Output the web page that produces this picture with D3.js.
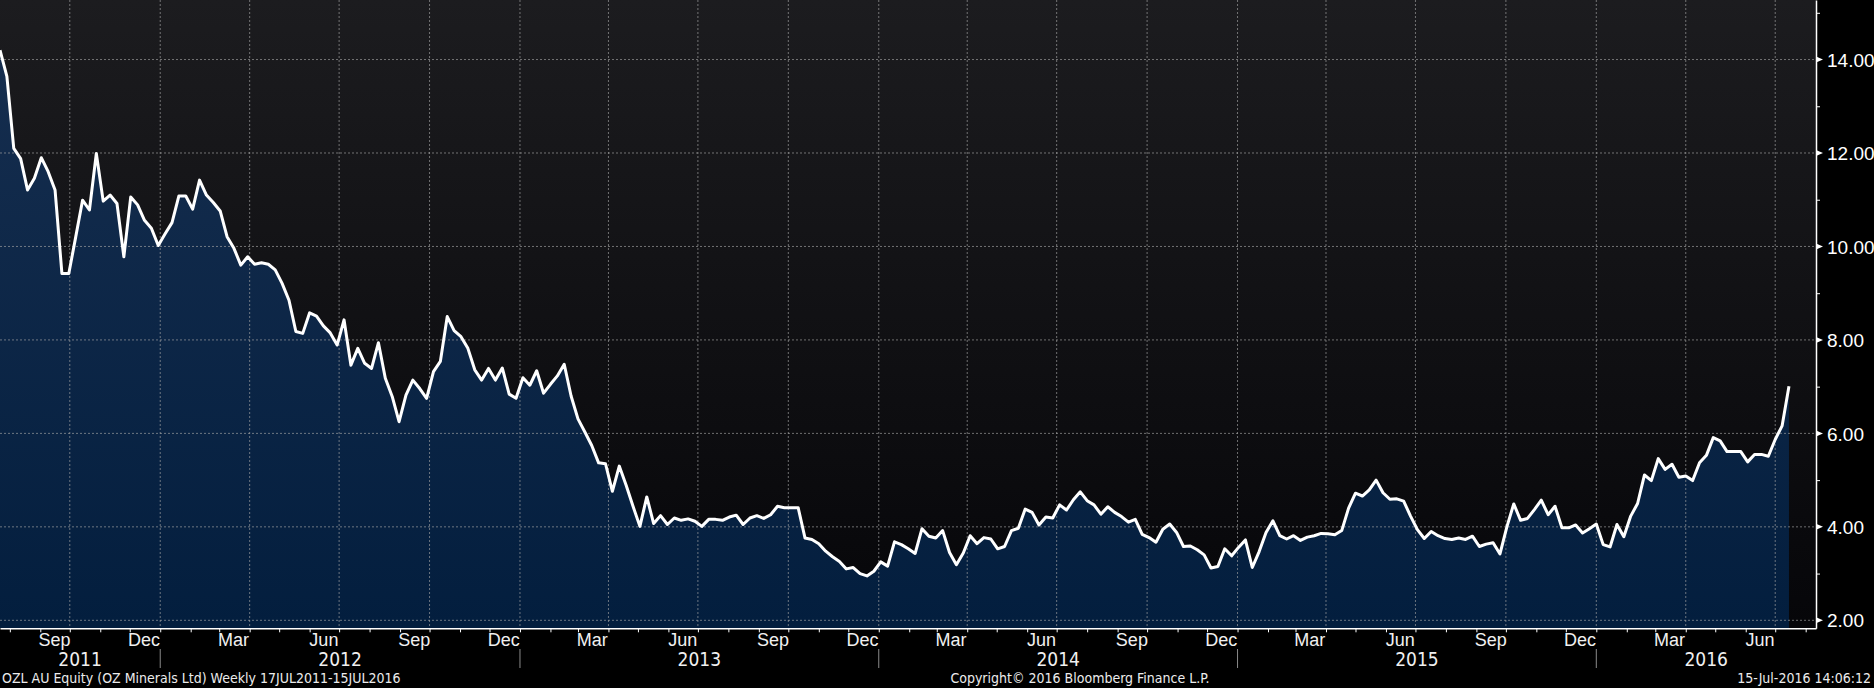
<!DOCTYPE html>
<html>
<head>
<meta charset="utf-8">
<script src="https://d3js.org/d3.v7.min.js"></script>
<style>
  body { margin: 0; background: #000; }
  svg { display: block; }
  text { font-family: "Liberation Sans Narrow", "Arial Narrow", "DejaVu Sans Condensed", sans-serif; }
</style>
</head>
<body>
<script>
"use strict";

// weekly closes, first week ending 22 Jul 2011
const firstWeek = new Date(2011, 6, 22);
const closes = [
    14.2, 13.64, 12.1, 11.88, 11.21, 11.46, 11.9, 11.6, 11.21, 9.42,
    9.42, 10.2, 10.99, 10.78, 11.99, 10.97, 11.1, 10.92, 9.78, 11.06,
    10.89, 10.56, 10.39, 10.02, 10.27, 10.51, 11.08, 11.08, 10.8, 11.42,
    11.1, 10.94, 10.76, 10.21, 9.96, 9.6, 9.78, 9.62, 9.65, 9.62,
    9.5, 9.21, 8.85, 8.18, 8.14, 8.58, 8.51, 8.3, 8.15, 7.89,
    8.43, 7.46, 7.82, 7.5, 7.39, 7.94, 7.18, 6.79, 6.25, 6.82,
    7.14, 6.96, 6.75, 7.32, 7.54, 8.5, 8.2, 8.07, 7.82, 7.36,
    7.14, 7.39, 7.14, 7.4, 6.84, 6.75, 7.19, 7.03, 7.34, 6.86,
    7.05, 7.23, 7.48, 6.8, 6.31, 6.03, 5.74, 5.37, 5.35, 4.76,
    5.3, 4.89, 4.44, 4.01, 4.64, 4.07, 4.24, 4.05, 4.19, 4.14,
    4.17, 4.12, 4.01, 4.16, 4.16, 4.14, 4.21, 4.25, 4.05, 4.19,
    4.24, 4.18, 4.26, 4.44, 4.41, 4.41, 4.41, 3.76, 3.73, 3.64,
    3.48, 3.36, 3.26, 3.1, 3.13, 3.0, 2.95, 3.05, 3.25, 3.16,
    3.68, 3.62, 3.53, 3.43, 3.96, 3.8, 3.76, 3.92, 3.45, 3.19,
    3.44, 3.81, 3.64, 3.77, 3.74, 3.53, 3.58, 3.92, 3.97, 4.38,
    4.31, 4.04, 4.21, 4.19, 4.47, 4.36, 4.58, 4.75, 4.56, 4.47,
    4.27, 4.43, 4.31, 4.22, 4.1, 4.16, 3.84, 3.77, 3.67, 3.95,
    4.06, 3.88, 3.58, 3.59, 3.51, 3.4, 3.12, 3.15, 3.53, 3.38,
    3.56, 3.72, 3.13, 3.47, 3.88, 4.13, 3.81, 3.74, 3.81, 3.71,
    3.78, 3.81, 3.86, 3.85, 3.83, 3.92, 4.4, 4.72, 4.66, 4.79,
    5.0, 4.73, 4.59, 4.6, 4.55, 4.23, 3.94, 3.75, 3.9, 3.81,
    3.75, 3.73, 3.76, 3.73, 3.8, 3.58, 3.63, 3.66, 3.42, 4.0,
    4.49, 4.14, 4.18, 4.37, 4.57, 4.26, 4.44, 3.98, 3.98, 4.04,
    3.87, 3.96, 4.06, 3.62, 3.57, 4.05, 3.79, 4.23, 4.5, 5.11,
    4.99, 5.46, 5.23, 5.34, 5.06, 5.09, 4.99, 5.37, 5.53, 5.91,
    5.84, 5.61, 5.61, 5.61, 5.39, 5.55, 5.55, 5.51, 5.87, 6.16,
    7.01
];

const yTicks = [2, 4, 6, 8, 10, 12, 14];
const yMinorTicks = [3, 5, 7, 9, 11, 13, 15];
const years = [2011, 2012, 2013, 2014, 2015, 2016];
const footerLeft = "OZL AU Equity (OZ Minerals Ltd)  Weekly 17JUL2011-15JUL2016";
const footerMid = "Copyright\u00A9 2016 Bloomberg Finance L.P.";
const footerRight = "15-Jul-2016 14:06:12";

function draw(){
    const width = 1874,
        height = 688,
        plotRight = 1816,
        plotBottom = 628.3;

    let data = closes.map(function(v, i){
        return {date: d3.timeWeek.offset(firstWeek, i), value: v};
    });

    let x = d3.scaleTime()
        .domain([new Date(2011, 6, 22), new Date(2016, 7, 11, 12)])
        .range([0, plotRight]);

    let y = d3.scaleLinear()
        .domain([1.829, 15.274])
        .range([plotBottom, 0]);

    let svg = d3.select("body")
        .append("svg")
        .attr("width", width)
        .attr("height", height)
        .style("background", "#000");

    let defs = svg.append("defs");

    let bg = defs.append("linearGradient")
        .attr("id", "bg")
        .attr("x1", 0).attr("y1", 0).attr("x2", 0).attr("y2", 1);
    bg.append("stop").attr("offset", "0%").attr("stop-color", "#1c1c1f");
    bg.append("stop").attr("offset", "100%").attr("stop-color", "#060609");

    let fill = defs.append("linearGradient")
        .attr("id", "fill")
        .attr("gradientUnits", "userSpaceOnUse")
        .attr("x1", 0).attr("y1", 0).attr("x2", 0).attr("y2", plotBottom);
    fill.append("stop").attr("offset", "0%").attr("stop-color", "#172f50");
    fill.append("stop").attr("offset", "100%").attr("stop-color", "#031e3e");

    defs.append("clipPath")
        .attr("id", "plot-clip")
        .append("rect")
        .attr("width", plotRight)
        .attr("height", plotBottom);

    svg.append("rect")
        .attr("width", plotRight)
        .attr("height", plotBottom)
        .attr("fill", "url(#bg)");

    let chart = svg.append("g")
        .attr("clip-path", "url(#plot-clip)");

    chart.append("path")
        .datum(data)
        .attr("fill", "url(#fill)")
        .attr("d", d3.area()
            .x(function(d){ return x(d.date); })
            .y0(plotBottom)
            .y1(function(d){ return y(d.value); }));

    // dotted grid
    let gridColor = "rgba(165,165,165,0.65)";
    chart.selectAll(".hgrid")
        .data(yTicks)
        .enter()
        .append("line")
        .attr("x1", 0)
        .attr("x2", plotRight)
        .attr("y1", function(d){ return y(d); })
        .attr("y2", function(d){ return y(d); })
        .attr("stroke", gridColor)
        .attr("stroke-dasharray", "2,2");

    let quarters = d3.timeMonth.every(3).range(new Date(2011, 6, 23), x.domain()[1]);
    chart.selectAll(".vgrid")
        .data(quarters)
        .enter()
        .append("line")
        .attr("x1", function(d){ return x(d); })
        .attr("x2", function(d){ return x(d); })
        .attr("y1", 0)
        .attr("y2", plotBottom)
        .attr("stroke", gridColor)
        .attr("stroke-dasharray", "2,2");

    chart.append("path")
        .datum(data)
        .attr("fill", "none")
        .attr("stroke", "#fff")
        .attr("stroke-width", 3)
        .attr("stroke-linejoin", "round")
        .attr("d", d3.line()
            .x(function(d){ return x(d.date); })
            .y(function(d){ return y(d.value); }));

    // right axis
    let yAxis = svg.append("g")
        .attr("transform", "translate(" + plotRight + ",0)")
        .attr("color", "#fff")
        .call(d3.axisRight(y)
            .tickValues(yTicks)
            .tickSize(0)
            .tickSizeOuter(0)
            .tickPadding(11)
            .tickFormat(d3.format(".2f")));
    yAxis.select(".domain").attr("stroke-width", 1.5);
    yAxis.selectAll("text")
        .attr("font-size", "19px")
        .attr("dy", "0.35em")
        .style("font-family", "inherit");

    yAxis.selectAll(".marker")
        .data(yTicks)
        .enter()
        .append("path")
        .attr("fill", "#fff")
        .attr("d", function(d){
            let t = y(d);
            return "M0," + (t - 3) + "L7," + t + "L0," + (t + 3) + "Z";
        });

    svg.append("g")
        .attr("transform", "translate(" + plotRight + ",0)")
        .attr("color", "#fff")
        .call(d3.axisRight(y)
            .tickValues(yMinorTicks)
            .tickSize(4)
            .tickFormat(""))
        .select(".domain").remove();

    // bottom axis
    let xAxis = svg.append("g")
        .attr("transform", "translate(0," + plotBottom + ")")
        .attr("color", "#fff")
        .call(d3.axisBottom(x)
            .ticks(d3.timeMonth.every(1))
            .tickSize(4)
            .tickSizeOuter(0)
            .tickFormat(""));
    xAxis.select(".domain").attr("stroke-width", 1.5);

    let labelMonths = d3.timeMonth.range(new Date(2011, 7, 1), x.domain()[1])
        .filter(function(d){ return d.getMonth() % 3 === 2; })
        .map(function(d){ return new Date(d.getFullYear(), d.getMonth(), 15); });

    let monthAxis = svg.append("g")
        .attr("transform", "translate(0," + plotBottom + ")")
        .attr("color", "#f0f0f0")
        .call(d3.axisBottom(x)
            .tickValues(labelMonths)
            .tickSize(0)
            .tickPadding(5)
            .tickFormat(d3.timeFormat("%b")));
    monthAxis.select(".domain").remove();
    monthAxis.selectAll("text")
        .attr("font-size", "18px")
        .style("font-family", "inherit");

    // years under the months
    let yearSpans = years.map(function(yr){
        let a = Math.max(0, x(new Date(yr, 0, 1))),
            b = Math.min(plotRight, x(new Date(yr + 1, 0, 1)));
        return {year: yr, start: a, mid: (a + b) / 2};
    });

    svg.selectAll(".year")
        .data(yearSpans)
        .enter()
        .append("text")
        .attr("x", function(d){ return d.mid; })
        .attr("y", 666)
        .attr("text-anchor", "middle")
        .attr("font-size", "19px")
        .attr("fill", "#f0f0f0")
        .text(function(d){ return d.year; });

    svg.selectAll(".year-sep")
        .data(yearSpans.filter(function(d){ return d.start > 0; }))
        .enter()
        .append("line")
        .attr("x1", function(d){ return d.start; })
        .attr("x2", function(d){ return d.start; })
        .attr("y1", 649)
        .attr("y2", 668)
        .attr("stroke", "#8a8a8a");

    // footer
    let footer = svg.append("g")
        .attr("font-size", "14px")
        .attr("fill", "#ececec");
    footer.append("text").attr("x", 2).attr("y", 683).text(footerLeft);
    footer.append("text").attr("x", 1080).attr("y", 683)
        .attr("text-anchor", "middle").text(footerMid);
    footer.append("text").attr("x", 1871).attr("y", 683)
        .attr("text-anchor", "end").text(footerRight);
}

draw();
</script>
</body>
</html>
